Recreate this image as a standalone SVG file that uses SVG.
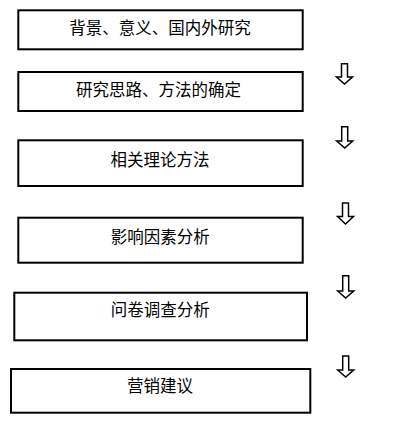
<svg xmlns="http://www.w3.org/2000/svg" width="404" height="422" viewBox="0 0 404 422">
<style>
.box{fill:#ffffff;stroke:#000000;stroke-width:2}
.lbl{font-family:"Noto Sans CJK SC","Liberation Sans",sans-serif;font-size:16.5px;fill:#000000;text-anchor:middle}
.arr{fill:#ffffff;stroke:#000000;stroke-width:1.5;stroke-linejoin:miter}
</style>
<rect x="0" y="0" width="404" height="422" fill="#ffffff"/>
<g id="node1"><rect class="box" x="18.3" y="10.3" width="284.4" height="39"/><text class="lbl" x="160" y="34.2">背景、意义、国内外研究</text></g>
<g id="node2"><rect class="box" x="18.3" y="72" width="284.4" height="39"/><text class="lbl" x="158.5" y="95.9">研究思路、方法的确定</text></g>
<g id="node3"><rect class="box" x="18.3" y="140.3" width="284.4" height="45.7"/><text class="lbl" x="160" y="166.1">相关理论方法</text></g>
<g id="node4"><rect class="box" x="18.3" y="217.7" width="284.4" height="45"/><text class="lbl" x="160.3" y="242.6">影响因素分析</text></g>
<g id="node5"><rect class="box" x="14.3" y="292.7" width="292.7" height="47.6"/><text class="lbl" x="160.3" y="316.1">问卷调查分析</text></g>
<g id="node6"><rect class="box" x="11" y="369" width="299.3" height="43.7"/><text class="lbl" x="160" y="391.9">营销建议</text></g>
<g id="connectors">
<path class="arr" d="M341.5,63.7 H347.5 V77 H352.5 L344.5,84 L336.5,77 H341.5 Z"/>
<path class="arr" d="M341.7,126.7 H347.7 V141 H352.7 L344.7,148 L336.7,141 H341.7 Z"/>
<path class="arr" d="M342.5,203 H348.5 V216.5 H353.5 L345.5,224 L337.5,216.5 H342.5 Z"/>
<path class="arr" d="M342.7,275.7 H348.7 V291 H353.7 L345.7,298 L337.7,291 H342.7 Z"/>
<path class="arr" d="M342.7,356 H348.7 V370 H353.7 L345.7,377 L337.7,370 H342.7 Z"/>
</g>
</svg>
